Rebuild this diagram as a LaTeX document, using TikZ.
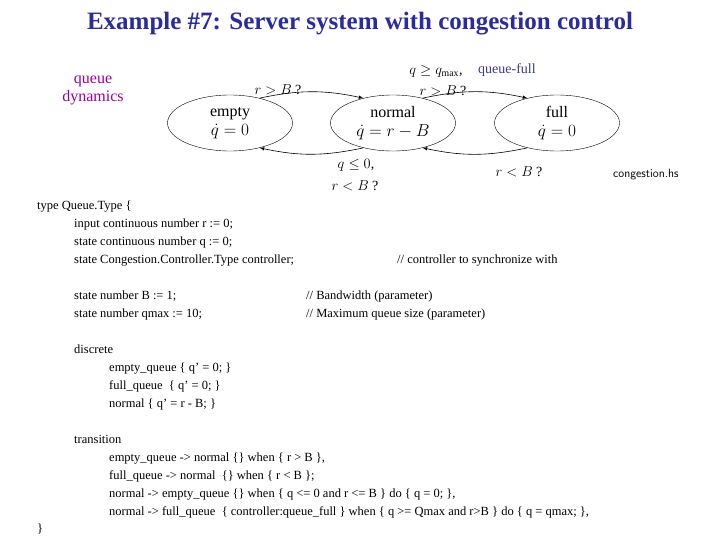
\documentclass[tikz,border=0pt]{standalone}
\usepackage{fontspec}
\setmainfont{Liberation Serif}
\usepackage{amsmath,amssymb}
\usetikzlibrary{shapes.geometric}
\definecolor{titleblue}{HTML}{2B2BA0}
\definecolor{qpurple}{HTML}{990099}
\definecolor{qfull}{HTML}{3A3A8A}
\begin{document}
\begin{tikzpicture}[x=1pt,y=-1pt,
  st/.style={draw,ellipse,minimum width=125pt,minimum height=56pt,inner sep=0pt,align=center,font=\fontsize{16}{19}\selectfont},
  code/.style={anchor=base west,inner sep=0pt,font=\fontsize{12.5}{14}\selectfont},
  lab/.style={inner sep=0pt,font=\fontsize{14}{16}\selectfont},
  arr/.style={-latex,semithick}]
\useasboundingbox (0,0) rectangle (720,540);
\node[anchor=base,font=\fontsize{25}{28}\selectfont\bfseries,text=titleblue] (title) at (360,30) {Example \#7: Server system with congestion control};
\node[align=center,text=qpurple,font=\fontsize{16}{18}\selectfont] (qd) at (93,90) {queue\\dynamics};
\node[st] (empty) at (230,123) {empty\\$\dot q = 0$};
\node[st] (normal) at (393,123) {normal\\$\dot q = r - B$};
\node[st] (full) at (557,123) {full\\$\dot q = 0$};
\draw[arr] (empty.40) to[bend left=12] (normal.140);
\draw[arr] (normal.220) to[bend left=12] (empty.320);
\draw[arr] (normal.40) to[bend left=12] (full.140);
\draw[arr] (full.220) to[bend left=12] (normal.320);
\node[lab] (l1) at (278,90) {$r>B$ ?};
\node[lab] (l2) at (436,71) {$q\geq q_{\max}$,};
\node[lab,text=qfull,anchor=west,font=\fontsize{14}{16}\selectfont] (l2b) at (478,70) {queue-full};
\node[lab] (l3) at (443,91) {$r>B$ ?};
\node[lab] (l4) at (356,165) {$q\leq 0$,};
\node[lab] (l5) at (355,186) {$r<B$ ?};
\node[lab] (l6) at (519,172) {$r<B$ ?};
\node[anchor=west,inner sep=0pt,font=\fontsize{12}{14}\selectfont\sffamily] (cg) at (613,175) {congestion.hs};
\node[code] (c1) at (37,210) {type Queue.Type \{};
\node[code] (c2) at (74,227) {input continuous number r := 0;};
\node[code] (c3) at (74,245) {state continuous number q := 0;};
\node[code] (c4) at (74,263) {state Congestion.Controller.Type controller;};
\node[code] (c4b) at (397,263) {// controller to synchronize with};
\node[code] (c5) at (74,299) {state number B := 1;};
\node[code] (c5b) at (306,299) {// Bandwidth (parameter)};
\node[code] (c6) at (74,317) {state number qmax := 10;};
\node[code] (c6b) at (306,317) {// Maximum queue size (parameter)};
\node[code] (c7) at (74,353) {discrete};
\node[code] (c8) at (109,371) {empty\_queue \{ q' = 0; \}};
\node[code] (c9) at (109,389) {full\_queue \ \{ q' = 0; \}};
\node[code] (c10) at (109,407) {normal \{ q' = r - B; \}};
\node[code] (c11) at (74,443) {transition};
\node[code] (c12) at (109,461) {empty\_queue -> normal \{\} when \{ r > B \},};
\node[code] (c13) at (109,479) {full\_queue -> normal \ \{\} when \{ r < B \};};
\node[code] (c14) at (109,497) {normal -> empty\_queue \{\} when \{ q <= 0 and r <= B \} do \{ q = 0; \},};
\node[code] (c15) at (109,515) {normal -> full\_queue \ \{ controller:queue\_full \} when \{ q >= Qmax and r>B \} do \{ q = qmax; \},};
\node[code] (c16) at (37,532) {\}};
\end{tikzpicture}
\end{document}
